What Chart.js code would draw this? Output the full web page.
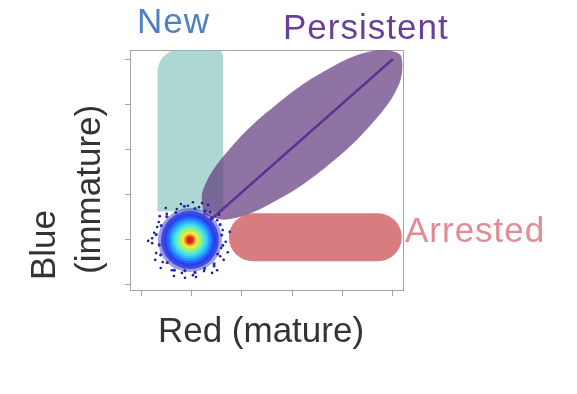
<!DOCTYPE html>
<html>
<head>
<meta charset="utf-8">
<script src="https://cdn.jsdelivr.net/npm/chart.js@4.4.1/dist/chart.umd.min.js"></script>
<style>
	html, body { margin: 0; padding: 0; background: #fff; }
	#wrap { width: 577px; height: 394px; }
</style>
</head>
<body>
<div id="wrap"><canvas id="fate-chart" width="577" height="394"></canvas></div>
<script>
/* global Chart */
// axis ranges (arbitrary units, ticks at whole numbers, no labels)
var xRange = [ -0.22, 5.2 ];
var yRange = [ -0.13, 5.2 ];
var tickStep = 1;

var groups = [ 'New', 'Persistent', 'Arrested' ];

// "New": band rising straight up from the starting cloud
var newBand = [ { x: 0.98, y: [ 1.62, 5.2 ] } ];

// "Persistent": elongated ellipse along the diagonal, plus its axis line
var persistentOutline = [
	{ x: 1.23, y: 1.54 }, { x: 1.24, y: 2.13 }, { x: 1.78, y: 3.03 },
	{ x: 2.70, y: 4.00 }, { x: 3.75, y: 4.80 }, { x: 4.65, y: 5.19 },
	{ x: 5.16, y: 5.08 }, { x: 5.14, y: 4.49 }, { x: 4.61, y: 3.60 },
	{ x: 3.69, y: 2.62 }, { x: 2.64, y: 1.83 }, { x: 1.74, y: 1.44 },
	{ x: 1.23, y: 1.54 }
];
var persistentAxis = [ { x: 1.37, y: 1.42 }, { x: 5.0, y: 5.0 } ];

// "Arrested": horizontal band along the red axis
var arrestedBand = [ { x: 2.22, y: 1.04 }, { x: 4.70, y: 1.04 } ];

// starting population (density cloud)
var cloudCenter = { x: 0.97, y: 0.98 };
var cloudEdge = [
	[ 1.62, 0.86 ], [ 1.52, 0.67 ], [ 1.45, 0.45 ], [ 1.26, 0.35 ], [ 1.07, 0.26 ],
	[ 0.87, 0.30 ], [ 0.66, 0.31 ], [ 0.52, 0.48 ], [ 0.39, 0.65 ], [ 0.36, 0.87 ],
	[ 0.30, 1.10 ], [ 0.40, 1.30 ], [ 0.51, 1.50 ], [ 0.69, 1.59 ], [ 0.86, 1.73 ],
	[ 1.07, 1.68 ], [ 1.27, 1.63 ], [ 1.40, 1.47 ], [ 1.57, 1.32 ], [ 1.60, 1.09 ]
];
var cloudOutliers = [
	[ 1.68, 0.94 ], [ 1.62, 1.20 ], [ 1.57, 0.62 ], [ 1.51, 1.42 ], [ 1.45, 0.40 ],
	[ 1.37, 1.60 ], [ 1.25, 0.29 ], [ 1.15, 1.71 ], [ 1.03, 0.20 ], [ 0.93, 1.74 ],
	[ 0.81, 0.25 ], [ 0.71, 1.67 ], [ 0.61, 0.31 ], [ 0.51, 1.56 ], [ 0.43, 0.49 ],
	[ 0.35, 1.38 ], [ 0.30, 0.69 ], [ 0.26, 1.14 ], [ 0.22, 0.91 ], [ 0.14, 0.96 ],
	[ 1.64, 0.54 ], [ 1.55, 1.54 ], [ 0.87, 0.14 ], [ 1.09, 0.16 ], [ 0.39, 0.36 ],
	[ 0.32, 1.27 ], [ 1.33, 1.76 ], [ 1.21, 1.80 ], [ 1.76, 1.16 ], [ 1.41, 0.25 ],
	[ 0.65, 0.18 ], [ 0.28, 0.54 ], [ 0.49, 1.69 ], [ 1.59, 0.80 ], [ 0.37, 1.51 ],
	[ 1.72, 0.71 ], [ 1.03, 1.82 ], [ 0.79, 1.78 ], [ 1.51, 0.31 ], [ 0.22, 1.02 ]
];

// density layers, outermost first (jet colours)
var cloudColors = [
	'rgba(40,40,190,0.45)', 'rgba(35,45,215,0.75)', '#2a3ff0', '#2266ff', '#2a94ff',
	'#31c2f4', '#46e2e6', '#74f0b0', '#b2f060', '#eef040', '#f5ad30', '#ef5e22', '#d6221a'
];
var cloudRadii = [ 32, 29, 26, 23.5, 21, 18.5, 16, 13.5, 11, 8.5, 6.5, 4.8, 3.2 ];

(function () {
	'use strict';

	var el = document.getElementById( 'fate-chart' );
	var gridColor = '#a3a3a3';

	var labelsPlugin = {
		id: 'fateLabels',
		afterDraw: function ( chart ) {
			var ctx = chart.ctx;
			var ca = chart.chartArea;
			ctx.save();
			ctx.textBaseline = 'alphabetic';
			ctx.textAlign = 'left';

			ctx.font = '35px "Liberation Sans", Arial, sans-serif';
			ctx.letterSpacing = '1px';
			ctx.fillStyle = '#4f80c1';
			ctx.fillText( groups[ 0 ], ca.left + 7, ca.top - 17 );
			ctx.fillStyle = '#6a3f98';
			ctx.fillText( groups[ 1 ], ca.left + 153, ca.top - 11 );
			ctx.fillStyle = '#e38b90';
			ctx.fillText( groups[ 2 ], ca.right + 2, ca.bottom - 48 );
			ctx.letterSpacing = '0px';

			ctx.fillStyle = '#333333';
			ctx.textAlign = 'center';
			ctx.fillText( 'Red (mature)', ca.left + 131, ca.bottom + 52 );

			ctx.textAlign = 'left';
			ctx.save();
			ctx.translate( 55, ca.bottom - 10 );
			ctx.rotate( -Math.PI / 2 );
			ctx.fillText( 'Blue', 0, 0 );
			ctx.restore();
			ctx.save();
			ctx.translate( 100, ca.bottom - 16 );
			ctx.rotate( -Math.PI / 2 );
			ctx.fillText( '(immature)', 0, 0 );
			ctx.restore();

			ctx.restore();
		}
	};

	function toPoints( list ) {
		return list.map( function ( p ) { return { x: p[ 0 ], y: p[ 1 ] }; } );
	}

	var cloudLayers = cloudRadii.map( function () {
		return { x: cloudCenter.x, y: cloudCenter.y };
	} );

	new Chart( el, {
		type: 'scatter',
		data: {
			datasets: [
				{
					label: 'Start (dense)',
					data: cloudLayers,
					pointRadius: cloudRadii,
					pointBackgroundColor: cloudColors,
					pointBorderWidth: 0,
					order: 0,
				},
				{
					label: 'Start (edge)',
					data: toPoints( cloudEdge ),
					pointRadius: 1.6,
					pointBackgroundColor: '#2230c8',
					pointBorderWidth: 0,
					order: 1,
				},
				{
					label: 'Start',
					data: toPoints( cloudOutliers ),
					pointRadius: 1.3,
					pointBackgroundColor: '#1c1ca0',
					pointBorderWidth: 0,
					order: 1,
				},
				{
					type: 'line',
					label: groups[ 1 ] + ' axis',
					data: persistentAxis,
					showLine: true,
					borderColor: '#5c3490',
					borderWidth: 2.5,
					pointRadius: 0,
					order: 2,
				},
				{
					type: 'line',
					label: groups[ 2 ],
					data: arrestedBand,
					showLine: true,
					borderColor: 'rgba(200,70,73,0.7)',
					borderWidth: 48,
					borderCapStyle: 'round',
					pointRadius: 0,
					order: 3,
				},
				{
					type: 'line',
					label: groups[ 1 ],
					data: persistentOutline,
					showLine: true,
					fill: 'shape',
					tension: 0.4,
					backgroundColor: 'rgba(95,55,125,0.7)',
					borderColor: 'rgba(0,0,0,0)',
					borderWidth: 0,
					pointRadius: 0,
					order: 4,
				},
				{
					type: 'bar',
					label: groups[ 0 ],
					data: newBand,
					backgroundColor: 'rgba(125,190,184,0.62)',
					barThickness: 65,
					borderSkipped: false,
					borderRadius: { topLeft: 22, topRight: 7, bottomLeft: 0, bottomRight: 0 },
					order: 5,
				},
			],
		},
		options: {
			responsive: false,
			animation: false,
			events: [],
			layout: { padding: { top: 50, right: 174, bottom: 0, left: 0 } },
			plugins: { legend: { display: false }, tooltip: { enabled: false } },
			scales: {
				x: {
					type: 'linear', min: xRange[ 0 ], max: xRange[ 1 ], offset: false,
					ticks: { display: false, stepSize: tickStep, includeBounds: false },
					grid: { display: true, offset: false, drawOnChartArea: false, drawTicks: true, tickLength: 6, color: gridColor },
					border: { display: true, color: gridColor },
					afterFit: function ( s ) { s.height = 104; },
				},
				x2: {
					type: 'linear', position: 'top', display: true, min: xRange[ 0 ], max: xRange[ 1 ],
					ticks: { display: false }, grid: { display: false },
					border: { display: true, color: gridColor },
					afterFit: function ( s ) { s.height = 0; },
				},
				y: {
					type: 'linear', min: yRange[ 0 ], max: yRange[ 1 ], beginAtZero: false,
					ticks: { display: false, stepSize: tickStep, includeBounds: false },
					grid: { display: true, drawOnChartArea: false, drawTicks: true, tickLength: 5, color: gridColor },
					border: { display: true, color: gridColor },
					afterFit: function ( s ) { s.width = 130; },
				},
				y2: {
					type: 'linear', position: 'right', display: true, min: yRange[ 0 ], max: yRange[ 1 ],
					ticks: { display: false }, grid: { display: false },
					border: { display: true, color: gridColor },
					afterFit: function ( s ) { s.width = 0; },
				},
			},
		},
		plugins: [ labelsPlugin ],
	} );
}() );
</script>
</body>
</html>
